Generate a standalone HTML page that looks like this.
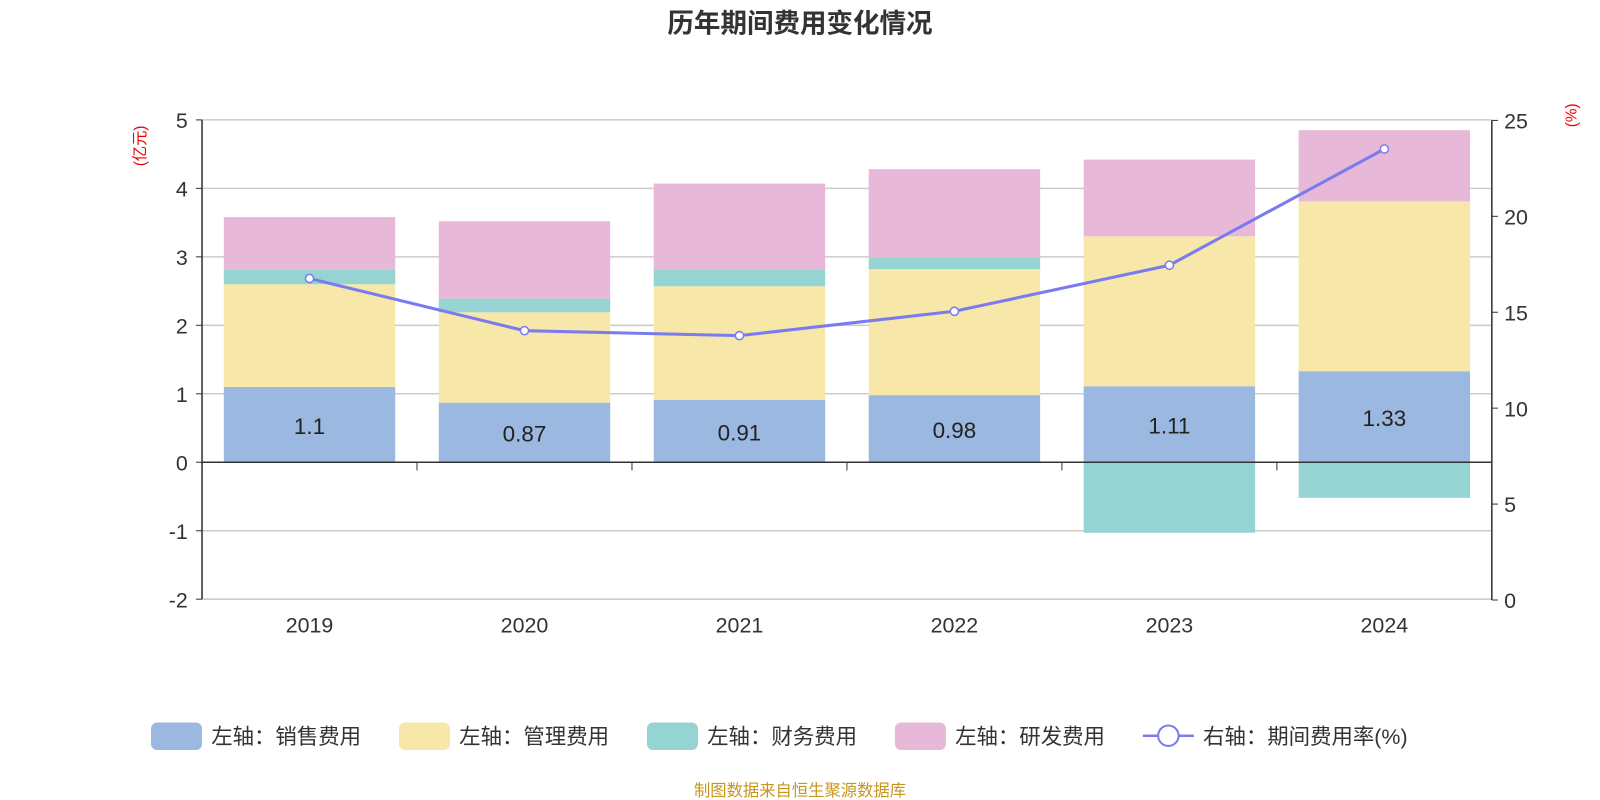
<!DOCTYPE html>
<html><head><meta charset="utf-8"><style>
body{margin:0;background:#fff;}
svg{display:block;}
svg text{font-family:"Liberation Sans","Noto Sans CJK SC",sans-serif;}
</style></head><body>
<svg id="chart" width="1600" height="800" viewBox="0 0 1568 784" xmlns="http://www.w3.org/2000/svg">
<text x="784" y="32" text-anchor="middle" font-size="26" font-weight="bold" fill="#333">历年期间费用变化情况</text>
<text transform="translate(142,143) rotate(-90)" text-anchor="middle" font-size="15" fill="#e00">(亿元)</text>
<text transform="translate(1545,113) rotate(-90)" text-anchor="middle" font-size="15" fill="#e00">(%)</text>
<g id="grid"></g><g id="bars"></g><g id="axes"></g><g id="line"></g>
<g id="legend" font-size="21" fill="#333">
<rect x="148" y="708" width="50" height="27" rx="6" fill="#9bb8e0"/>
<text x="207" y="729">左轴：销售费用</text>
<rect x="391" y="708" width="50" height="27" rx="6" fill="#f7e7a8"/>
<text x="450" y="729">左轴：管理费用</text>
<rect x="634" y="708" width="50" height="27" rx="6" fill="#96d4d4"/>
<text x="693" y="729">左轴：财务费用</text>
<rect x="877" y="708" width="50" height="27" rx="6" fill="#e7b8d8"/>
<text x="936" y="729">左轴：研发费用</text>
<line x1="1120" y1="721" x2="1170" y2="721" stroke="#7b7bf0" stroke-width="2.5"/>
<circle cx="1145" cy="721" r="10" fill="#fff" stroke="#7b7bf0" stroke-width="2"/>
<text x="1179" y="729">右轴：期间费用率(%)</text>
</g>
<text x="784" y="780" text-anchor="middle" font-size="16" fill="#c8961e">制图数据来自恒生聚源数据库</text>
</svg>
<script>
const years=["2019","2020","2021","2022","2023","2024"];
const sales=[1.1,0.87,0.91,0.98,1.11,1.33];
const mgmt=[1.50,1.32,1.66,1.84,2.19,2.48];
const fin=[0.21,0.20,0.25,0.17,-1.03,-0.52];
const rd=[0.77,1.13,1.25,1.29,1.12,1.04];
const rate=[16.76,14.04,13.78,15.05,17.45,23.51];
const leftTicks=[-2,-1,0,1,2,3,4,5];
const rightTicks=[0,5,10,15,20,25];
const NS="http://www.w3.org/2000/svg";
const X0=198,X1=1462,bw=(X1-X0)/years.length;
const yL=v=>453-v*67.1;
const yR=v=>588-v*18.8;
const xC=i=>X0+bw*(i+0.5);
function mk(tag,attrs,parent){const e=document.createElementNS(NS,tag);for(const k in attrs)e.setAttribute(k,attrs[k]);document.getElementById(parent).appendChild(e);return e;}
leftTicks.forEach(t=>{
 if(t!==0){const g=mk('line',{x1:X0,x2:X1,y1:yL(t),y2:yL(t),stroke:'#ccc','stroke-width':1.5},'grid');
 
 }
 const tx=mk('text',{x:X0-14,y:yL(t)+8,'text-anchor':'end','font-size':21,fill:'#333'},'axes');tx.textContent=t;
 
 
 mk('line',{x1:X0-6,x2:X0,y1:yL(t),y2:yL(t),stroke:'#333'},'axes');
});
rightTicks.forEach(t=>{
 const tx=mk('text',{x:X1+12,y:yR(t)+8,'font-size':21,fill:'#333'},'axes');tx.textContent=t;
 
 
 mk('line',{x1:X1,x2:X1+6,y1:yR(t),y2:yR(t),stroke:'#333'},'axes');
});
mk('line',{x1:X0,x2:X0,y1:yL(5),y2:yL(-2),stroke:'#333','stroke-width':1.5},'axes');
mk('line',{x1:X1,x2:X1,y1:yR(25),y2:yR(0),stroke:'#333','stroke-width':1.5},'axes');
mk('line',{x1:X0,x2:X1,y1:yL(0),y2:yL(0),stroke:'#333','stroke-width':1.5},'axes');
years.forEach((y,i)=>{
 mk('line',{x1:X0+bw*i,x2:X0+bw*i,y1:yL(0),y2:yL(0)+8,stroke:'#333'},'axes');
 const tx=mk('text',{x:xC(i),y:620,'text-anchor':'middle','font-size':21,fill:'#333'},'axes');tx.textContent=y;
 
 
 const series=[[sales,'#9bb8e0','bar-sales'],[mgmt,'#f7e7a8','bar-mgmt'],[fin,'#96d4d4','bar-fin'],[rd,'#e7b8d8','bar-rd']];
 let pos=0,neg=0;const w=168;
 series.forEach(([arr,c,n])=>{
  const v=arr[i];let a,b;
  if(v>=0){a=pos;b=pos+v;pos=b;}else{a=neg;b=neg+v;neg=b;}
  const r=mk('rect',{x:xC(i)-w/2,width:w,y:Math.min(yL(a),yL(b)),height:Math.abs(yL(a)-yL(b)),fill:c},'bars');
  
  
 });
 const lb=mk('text',{x:xC(i),y:(yL(0)+yL(sales[i]))/2+9,'text-anchor':'middle','font-size':22,fill:'#222'},'bars');lb.textContent=sales[i];
 
 
});
const pl=mk('polyline',{points:rate.map((v,i)=>xC(i)+','+yR(v)).join(' '),fill:'none',stroke:'#7b7bf0','stroke-width':3},'line');


rate.forEach((v,i)=>{const c=mk('circle',{cx:xC(i),cy:yR(v),r:4,fill:'#fff',stroke:'#7b7bf0','stroke-width':1.5},'line');
 
 });
</script>
</body></html>
